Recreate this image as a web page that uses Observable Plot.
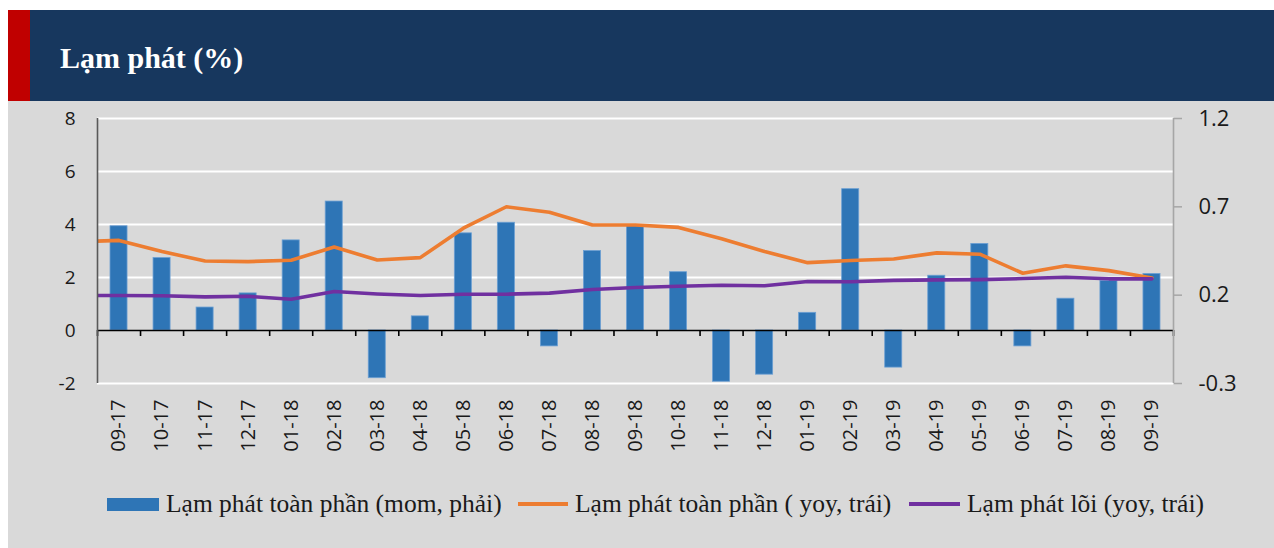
<!DOCTYPE html>
<html>
<head>
<meta charset="utf-8">
<script src="https://cdn.jsdelivr.net/npm/d3@7"></script>
<script src="https://cdn.jsdelivr.net/npm/@observablehq/plot@0.6"></script>
<style>
html,body{margin:0;padding:0;background:#fff;width:1274px;height:548px;overflow:hidden;}
#header{position:absolute;left:8px;top:10px;width:1266px;height:91px;background:#17375e;}
#redbar{position:absolute;left:0;top:0;width:22px;height:91px;background:#c00000;}
#title{position:absolute;left:52px;top:33px;color:#fff;font:bold 30px/30px "Liberation Serif",serif;white-space:nowrap;}
#panel{position:absolute;left:8px;top:101px;width:1266px;height:447px;background:#d9d9d9;}
#chart{position:absolute;left:0;top:101px;}
.leg{position:absolute;top:491px;height:26px;display:flex;align-items:center;font:25.5px/26px "Liberation Serif",serif;color:#1a1a1a;white-space:nowrap;}
.sw{display:inline-block;margin-right:7px;}
</style>
</head>
<body>
<div id="panel"></div>
<div id="header"><div id="redbar"></div><div id="title">Lạm phát (%)</div></div>
<div id="chart"></div>
<div id="legend"></div>
<script>
// ---- data ----
const months = ["09-17","10-17","11-17","12-17","01-18","02-18","03-18","04-18","05-18","06-18","07-18","08-18","09-18","10-18","11-18","12-18","01-19","02-19","03-19","04-19","05-19","06-19","07-19","08-19","09-19"];
const momRight = [0.59,0.41,0.13,0.21,0.51,0.73,-0.27,0.08,0.55,0.61,-0.09,0.45,0.59,0.33,-0.29,-0.25,0.10,0.80,-0.21,0.31,0.49,-0.09,0.18,0.28,0.32];
const yoyLeft  = [3.40,2.98,2.62,2.60,2.65,3.15,2.66,2.75,3.86,4.67,4.46,3.98,3.98,3.89,3.46,2.98,2.56,2.64,2.70,2.93,2.88,2.16,2.44,2.26,1.98];
const coreLeft = [1.32,1.31,1.27,1.29,1.18,1.47,1.38,1.32,1.37,1.37,1.41,1.55,1.62,1.67,1.71,1.69,1.85,1.84,1.89,1.91,1.92,1.96,2.01,1.95,1.95];
// previous month (08-17), only its connecting segment is visible at the left edge
const leadMonth = "08-17", leadYoy = 3.35, leadCore = 1.32;
const leftTicks = [-2,0,2,4,6,8];
const rightTicks = [-0.3,0.2,0.7,1.2];
const seriesNames = ["Lạm phát toàn phần (mom, phải)","Lạm phát toàn phần ( yoy, trái)","Lạm phát lõi (yoy, trái)"];

// ---- chart ----
const k = (leftTicks[leftTicks.length-1]-leftTicks[0])/(rightTicks[rightTicks.length-1]-rightTicks[0]);
const rows = months.map((m,i)=>({i, month:m, mom:momRight[i], yoy:yoyLeft[i], core:coreLeft[i]}));
const lineRows = [{i:-1, month:leadMonth, yoy:leadYoy, core:leadCore}, ...rows];
const xDomain = [-0.5, months.length-0.5];
const bounds = d3.range(xDomain[0], xDomain[1]+0.01, 1);

const chart = Plot.plot({
  width:1274, height:357,
  marginLeft:97, marginRight:101, marginTop:17, marginBottom:75,
  style:{background:"transparent", fontFamily:"'Open Sans', sans-serif", color:"#1a1a1a", overflow:"visible"},
  x:{type:"linear", domain:xDomain},
  y:{domain:[leftTicks[0], leftTicks[leftTicks.length-1]]},
  marks:[
    Plot.ruleY(leftTicks.filter(v=>v!==0), {stroke:"#ffffff", strokeWidth:2}),
    Plot.rect(rows, {x1:d=>d.i-0.5, x2:d=>d.i+0.5, y1:0, y2:d=>d.mom*k, insetLeft:13, insetRight:13, fill:"#2e75b6", stroke:"#6b9fd3", strokeWidth:0.8}),
    Plot.ruleY([0], {stroke:"#000", strokeWidth:1.6}),
    Plot.ruleX(bounds, {x:d=>d, y1:0, y2:0, insetTop:0, insetBottom:-6, stroke:"#000", strokeWidth:1.6}),
    Plot.line(lineRows, {x:"i", y:"yoy", stroke:"#ed7d31", strokeWidth:3.6, clip:true}),
    Plot.line(lineRows, {x:"i", y:"core", stroke:"#7030a0", strokeWidth:3.6, clip:true}),
    Plot.ruleX([xDomain[0]], {stroke:"#595959", strokeWidth:1.6}),
    Plot.ruleX([xDomain[1]], {stroke:"#a6a6a6", strokeWidth:1.6}),
    Plot.axisY({anchor:"left", ticks:leftTicks, tickSize:0, tickPadding:22, fontSize:19, label:null, tickFormat:d=>String(d)}),
    Plot.axisY({anchor:"right", ticks:rightTicks.map(v=>v*k), tickSize:8, tickPadding:17, stroke:"#a6a6a6", strokeWidth:1.5, fontSize:22, label:null, tickFormat:d=>(d/k).toFixed(1)}),
    Plot.axisX({anchor:"bottom", ticks:rows.map(d=>d.i), tickSize:0, tickPadding:16, tickRotate:-90, fontSize:20, label:null, tickFormat:i=>months[i]})
  ]
});
document.getElementById("chart").appendChild(chart);

// ---- legend ----
const legendItems = [
  {name:seriesNames[0], left:107, sw:{width:"52px",height:"13px",background:"#2e75b6"}},
  {name:seriesNames[1], left:518, sw:{width:"50px",height:"3.5px",background:"#ed7d31"}},
  {name:seriesNames[2], left:909, sw:{width:"51px",height:"3.5px",background:"#7030a0"}}
];
const leg = document.getElementById("legend");
for (const it of legendItems) {
  const d = document.createElement("div");
  d.className = "leg"; d.style.left = it.left + "px";
  const s = document.createElement("span"); s.className = "sw";
  Object.assign(s.style, it.sw);
  const t = document.createElement("span"); t.textContent = it.name;
  d.appendChild(s); d.appendChild(t); leg.appendChild(d);
}
</script>
</body>
</html>
